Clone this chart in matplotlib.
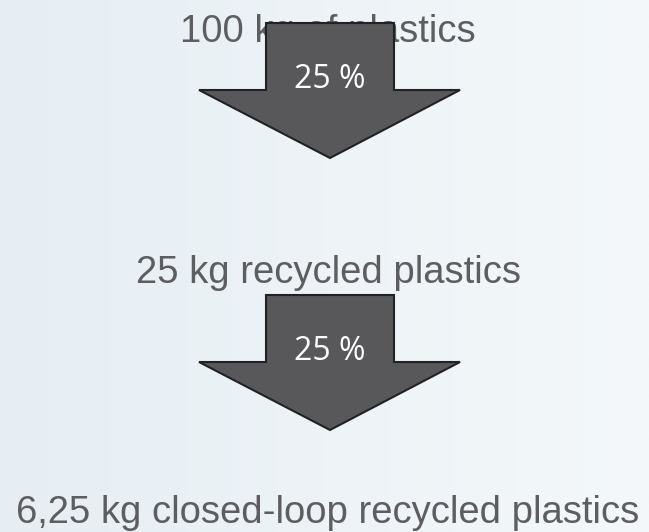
import numpy as np
import matplotlib.pyplot as plt
from matplotlib.patches import Polygon

labels = ["100 kg of plastics", "25 kg recycled plastics",
          "6,25 kg closed-loop recycled plastics"]
shares = ["25 %", "25 %"]

W, H = 649, 532
fig = plt.figure(figsize=(W / 100, H / 100), dpi=100)
ax = fig.add_axes([0, 0, 1, 1])
ax.set_xlim(0, W)
ax.set_ylim(H, 0)
ax.axis('off')

# soft background gradient, bluish on the left, lighter on the right
c0 = np.array([0xe6, 0xee, 0xf4]) / 255
c1 = np.array([0xf4, 0xf8, 0xfa]) / 255
t = np.linspace(0, 1, 256)[None, :, None]
grad = c0 + (c1 - c0) * t
ax.imshow(grad, extent=(0, W, H, 0), aspect='auto', zorder=0)

# label baselines and arrow tops
text_y = [42, 283, 523]
arrow_top = [23, 295]
cx = 330

for lab, y in zip(labels, text_y):
    ax.text(cx - 2, y, lab, ha='center', va='baseline', fontsize=27.5,
            family='Liberation Sans', color='#5e5e60', zorder=1)

for top, s in zip(arrow_top, shares):
    pts = [(266, top), (394, top), (394, top + 67), (460, top + 67),
           (cx, top + 135), (199, top + 67), (266, top + 67)]
    ax.add_patch(Polygon(pts, closed=True, facecolor='#58585a',
                         edgecolor='#222222', lw=1.5, zorder=2))
    ax.text(cx, top + 52, s, ha='center', va='center_baseline', fontsize=23,
            family='Open Sans', color='white', zorder=3)

fig.savefig('out.png', dpi=100)
